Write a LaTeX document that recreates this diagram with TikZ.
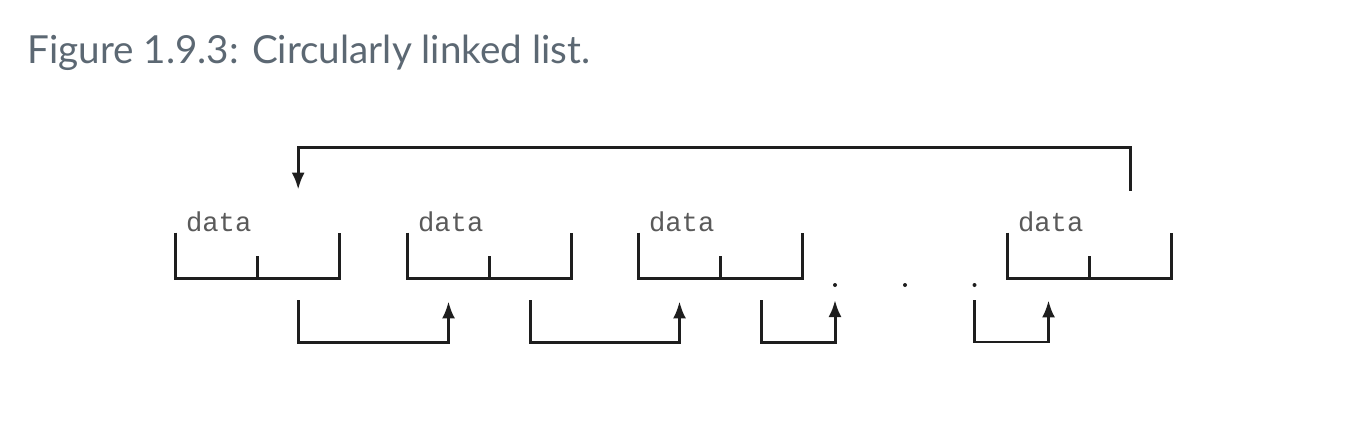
\documentclass[tikz,border=0pt]{standalone}
\usepackage{fontspec}
\setmainfont{Lato}
\setmonofont{Liberation Mono}
\usetikzlibrary{positioning}
\usetikzlibrary{arrows.meta}
\definecolor{captiongrey}{HTML}{5C6873}
\definecolor{fieldgrey}{HTML}{5A5A5A}
\definecolor{wire}{HTML}{1E1E1E}
\tikzstyle{cell}=[minimum width=1.62cm, minimum height=0.9cm, inner sep=0]
\tikzstyle{bracket}=[draw=wire, line width=1.7pt]
\tikzstyle{link}=[draw=wire, line width=1.7pt, -{Latex[length=0.34cm, width=0.26cm]}]
\tikzstyle{fieldtext}=[anchor=south west, inner sep=0, text=fieldgrey, font=\ttfamily\fontsize{15.5}{18}\selectfont]
\tikzstyle{listdot}=[circle, fill=wire, inner sep=0, minimum size=0.08cm]

\begin{document}
\begin{tikzpicture}[x=0.02cm, y=0.02cm]
      \useasboundingbox (0, 0) rectangle (1350, 434);
      \node[anchor=base west, inner sep=0, text=captiongrey, font=\fontsize{22}{26}\selectfont]
        (caption) at (27, 371) {Figure 1.9.3: Circularly linked list.};

      \foreach \i/\x in {1/216.5, 2/448.5, 3/679.5, 4/1048.5} {
        \node[cell] (data_\i) at (\x, 178.5) {};
        \node[cell, right=0pt of data_\i] (next_\i) {};
        \node[fieldtext] at ([xshift=0.2cm]data_\i.north west) {data};
        \draw[bracket] (data_\i.north west) |- (next_\i.south east) -- (next_\i.north east)
          (next_\i.south west) -- ++(0, 22);
      }

      \foreach \i/\x in {1/835, 2/905, 3/974.5}
        \node[listdot] (dot_\i) at (\x, 149) {};
      \coordinate (gap_in) at (835, 134);
      \coordinate (gap_out) at (974.5, 134);

      \draw[link] ([yshift=-0.44cm]next_1.south) -- ++(0, -42) -| ([yshift=-0.46cm]data_2.south);
      \draw[link] ([yshift=-0.44cm]next_2.south) -- ++(0, -42) -| ([yshift=-0.46cm]data_3.south);
      \draw[link] ([yshift=-0.44cm]next_3.south) -- ++(0, -42) -| (gap_in);
      \draw[link] (gap_out) -- (gap_out |- 0, 92) -| ([yshift=-0.44cm]data_4.south);
      \draw[link] ([yshift=0.84cm]next_4.north) -- ++(0, 43) -| ([yshift=0.86cm]next_1.north);
    \end{tikzpicture}
\end{document}
